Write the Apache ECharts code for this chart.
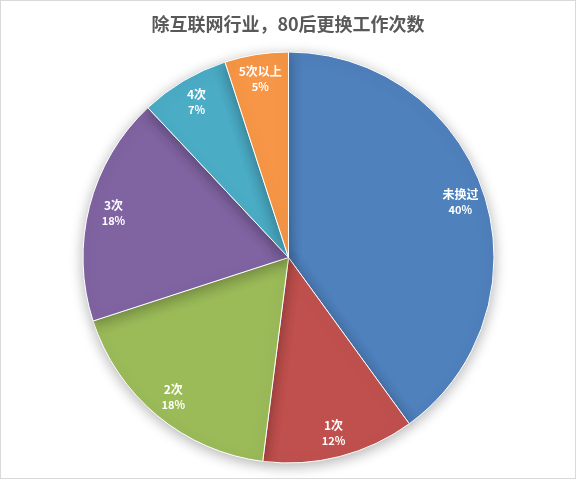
<!DOCTYPE html>
<html>
<head>
    <meta charset="utf-8">
    <title>除互联网行业，80后更换工作次数</title>
    <script src="https://cdn.jsdelivr.net/npm/echarts@6/dist/echarts.min.js"></script>
    <style>
        html, body { margin: 0; padding: 0; background: #fff; }
        #chart {
            width: 576px;
            height: 479px;
            box-sizing: border-box;
            border: 1px solid #d9d9d9;
        }
    </style>
</head>
<body>
<div id="chart"></div>

<script>
    const titleText = '除互联网行业，80后更换工作次数';
    const categories = ['未换过', '1次', '2次', '3次', '4次', '5次以上'];
    const shares = [40, 12, 18, 18, 7, 5];
    const colors = ['#4f81bd', '#c0504d', '#9bbb59', '#8064a2', '#4bacc6', '#f79646'];

    const pieData = categories.map((name, i) => ({ name: name, value: shares[i] }));

    const chart = echarts.init(document.getElementById('chart'), null, { renderer: 'canvas' });
    chart.setOption({
        animation: false,
        color: colors,
        title: {
            text: titleText,
            left: 'center',
            top: 9,
            textStyle: {
                fontFamily: 'Noto Sans CJK SC',
                fontSize: 18,
                fontWeight: 'bold',
                color: '#595959'
            }
        },
        series: [
            {
                // the visible slices
                type: 'pie',
                center: [287.5, 256.5],
                radius: [0, 205.5],
                startAngle: 90,
                clockwise: true,
                silent: true,
                label: { show: false },
                labelLine: { show: false },
                itemStyle: {
                    borderColor: '#fff',
                    borderWidth: 1,
                    shadowBlur: 14,
                    shadowOffsetX: 0,
                    shadowOffsetY: 3,
                    shadowColor: 'rgba(0,0,0,0.3)'
                },
                data: pieData
            },
            {
                // transparent ring that only carries the labels near the rim
                type: 'pie',
                center: [287.5, 256.5],
                radius: [150, 205.5],
                startAngle: 90,
                clockwise: true,
                silent: true,
                itemStyle: { color: 'rgba(0,0,0,0)' },
                labelLine: { show: false },
                label: {
                    show: true,
                    position: 'inside',
                    formatter: '{n|{b}}\n{p|{d}%}',
                    rich: {
                        n: {
                            fontFamily: 'Noto Sans CJK SC',
                            fontSize: 12,
                            fontWeight: 'bold',
                            color: '#fff',
                            lineHeight: 16
                        },
                        p: {
                            fontFamily: 'Noto Sans CJK SC',
                            fontSize: 11,
                            fontWeight: 'bold',
                            color: '#fff',
                            lineHeight: 15
                        }
                    }
                },
                data: pieData
            }
        ]
    });
</script>
</body>
</html>
